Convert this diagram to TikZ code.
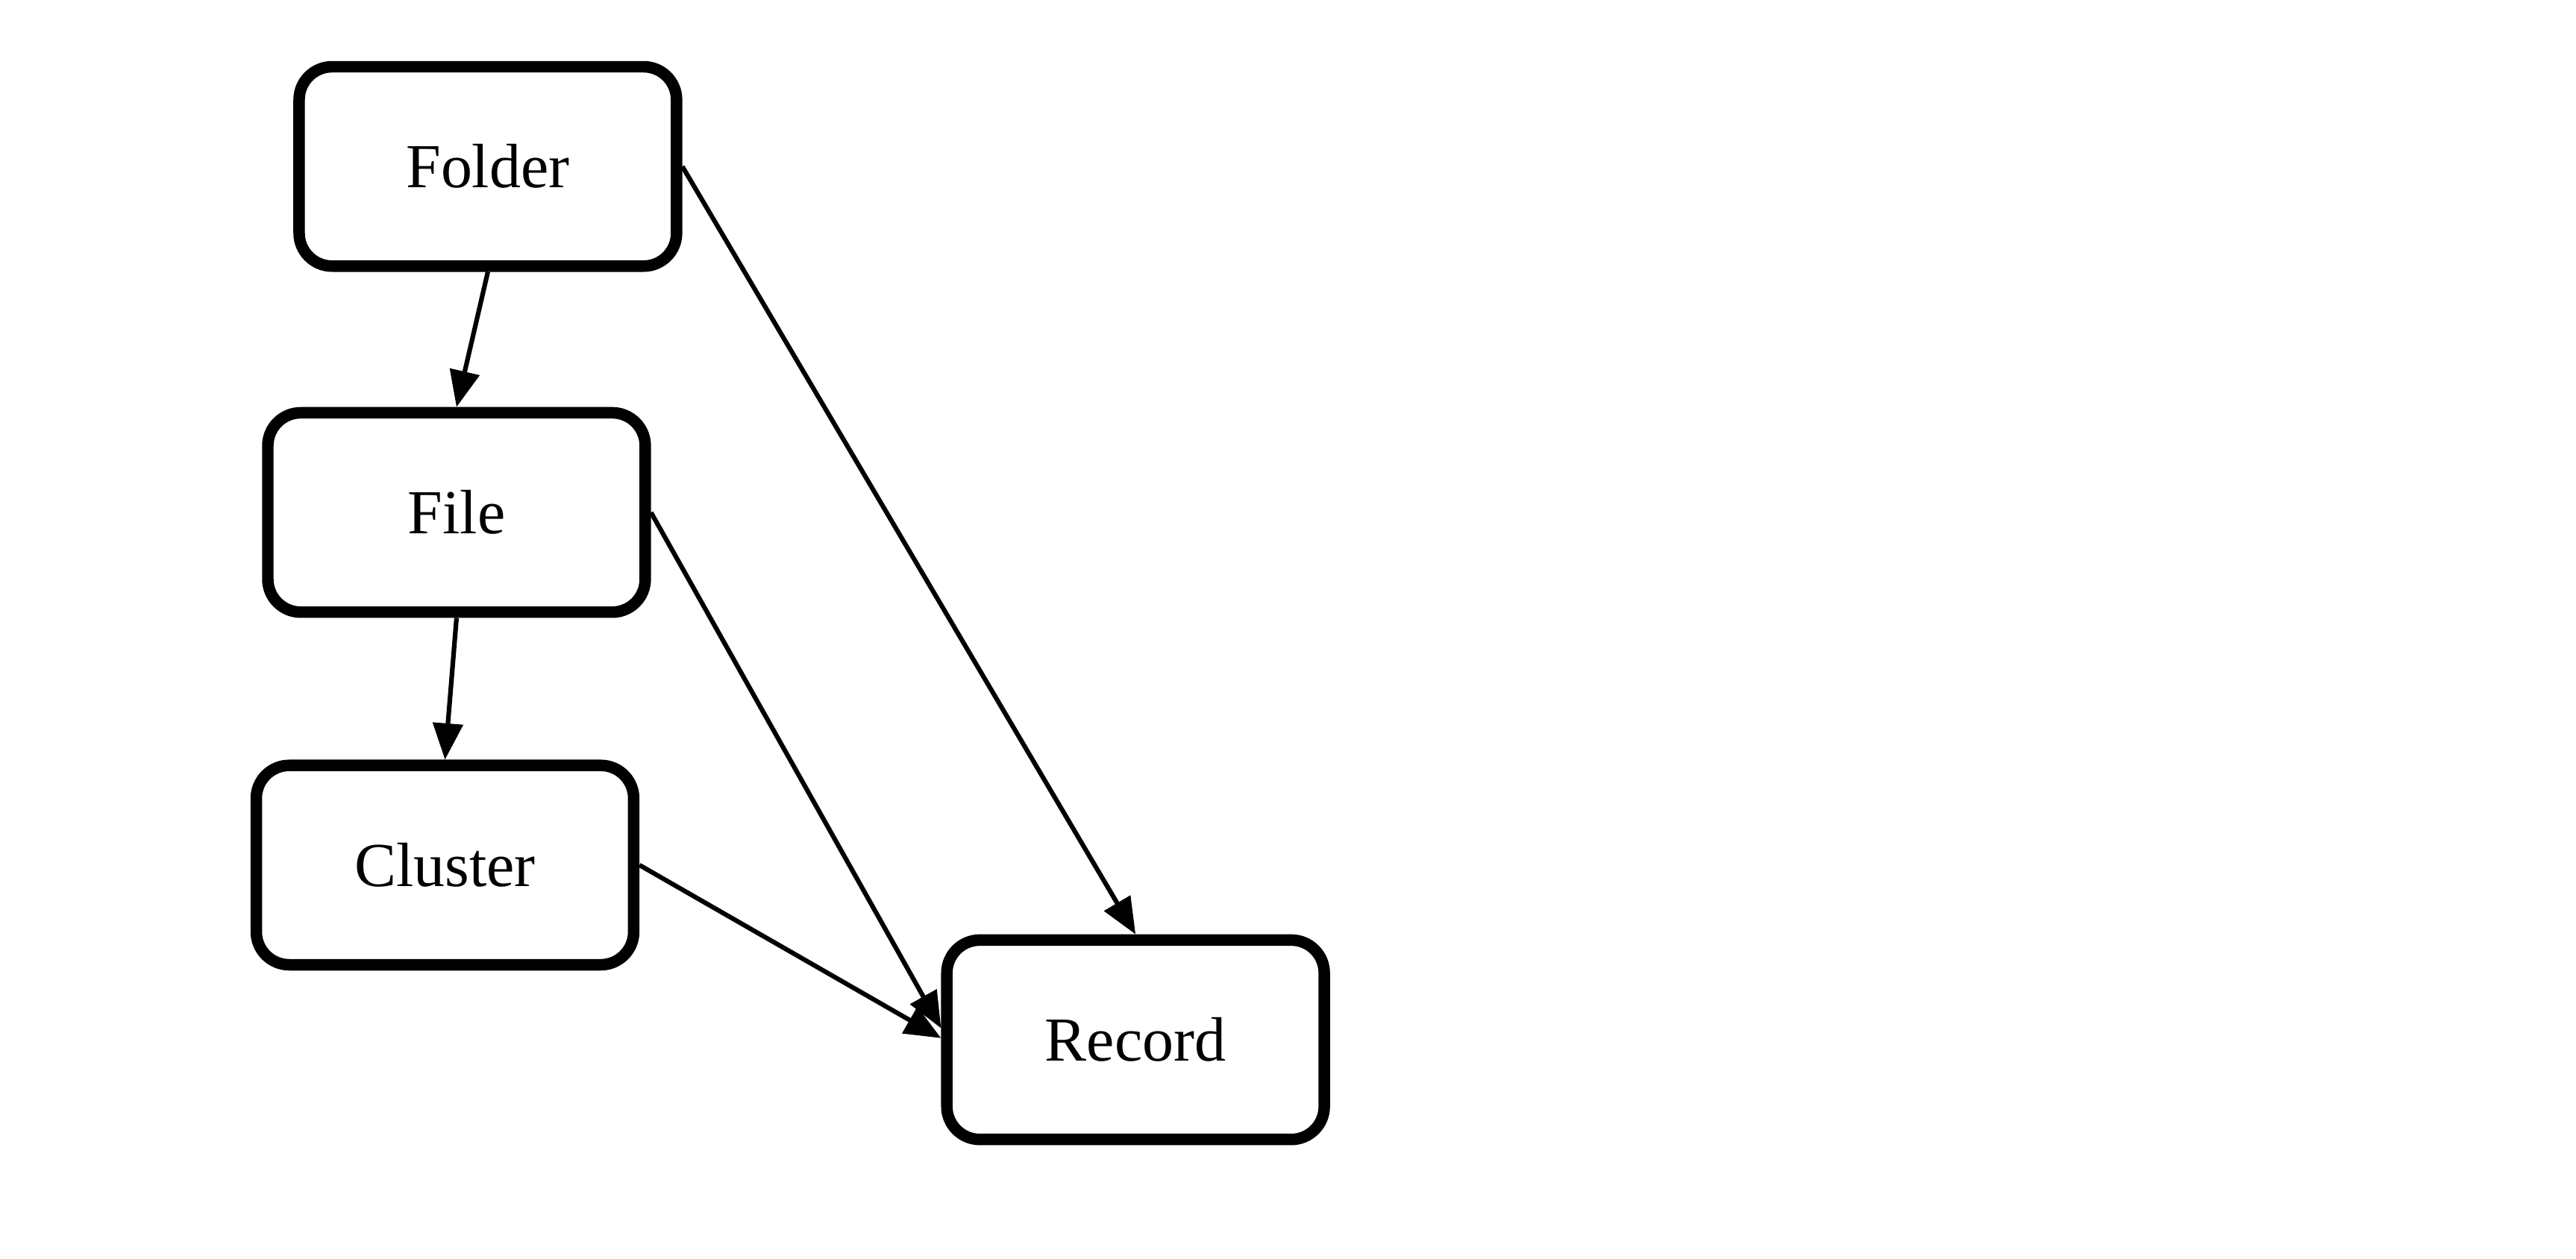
\documentclass[tikz,border=0pt]{standalone}
\usepackage{fontspec}
\setmainfont{Liberation Serif}
\usetikzlibrary{arrows.meta}

\begin{document}
\begin{tikzpicture}[x=1pt, y=-1pt,
    box/.style={draw, line width=7pt, rounded corners=20pt, minimum width=229pt, minimum height=121pt, font=\fontsize{38}{44}\selectfont},
    link/.style={line width=2.8pt, -{Triangle[length=22pt,width=18pt]}}]
    \useasboundingbox (0,0) rectangle (1563,764);

    % Boxes
    \node[box] (folder) at (296,101) {Folder};
    \node[box] (file) at (277,311) {File};
    \node[box] (cluster) at (270,525) {Cluster};
    \node[box] (record) at (689,631) {Record};

    % Links
    \draw[link] (folder.south) -- (file.north);
    \draw[link] (file.south) -- (cluster.north);
    \draw[link] (folder.east) -- (record.north);
    \draw[link] (file.east) -- ([yshift=7pt]record.west);
    \draw[link] (cluster.east) -- ([yshift=1pt]record.west);
\end{tikzpicture}
\end{document}
